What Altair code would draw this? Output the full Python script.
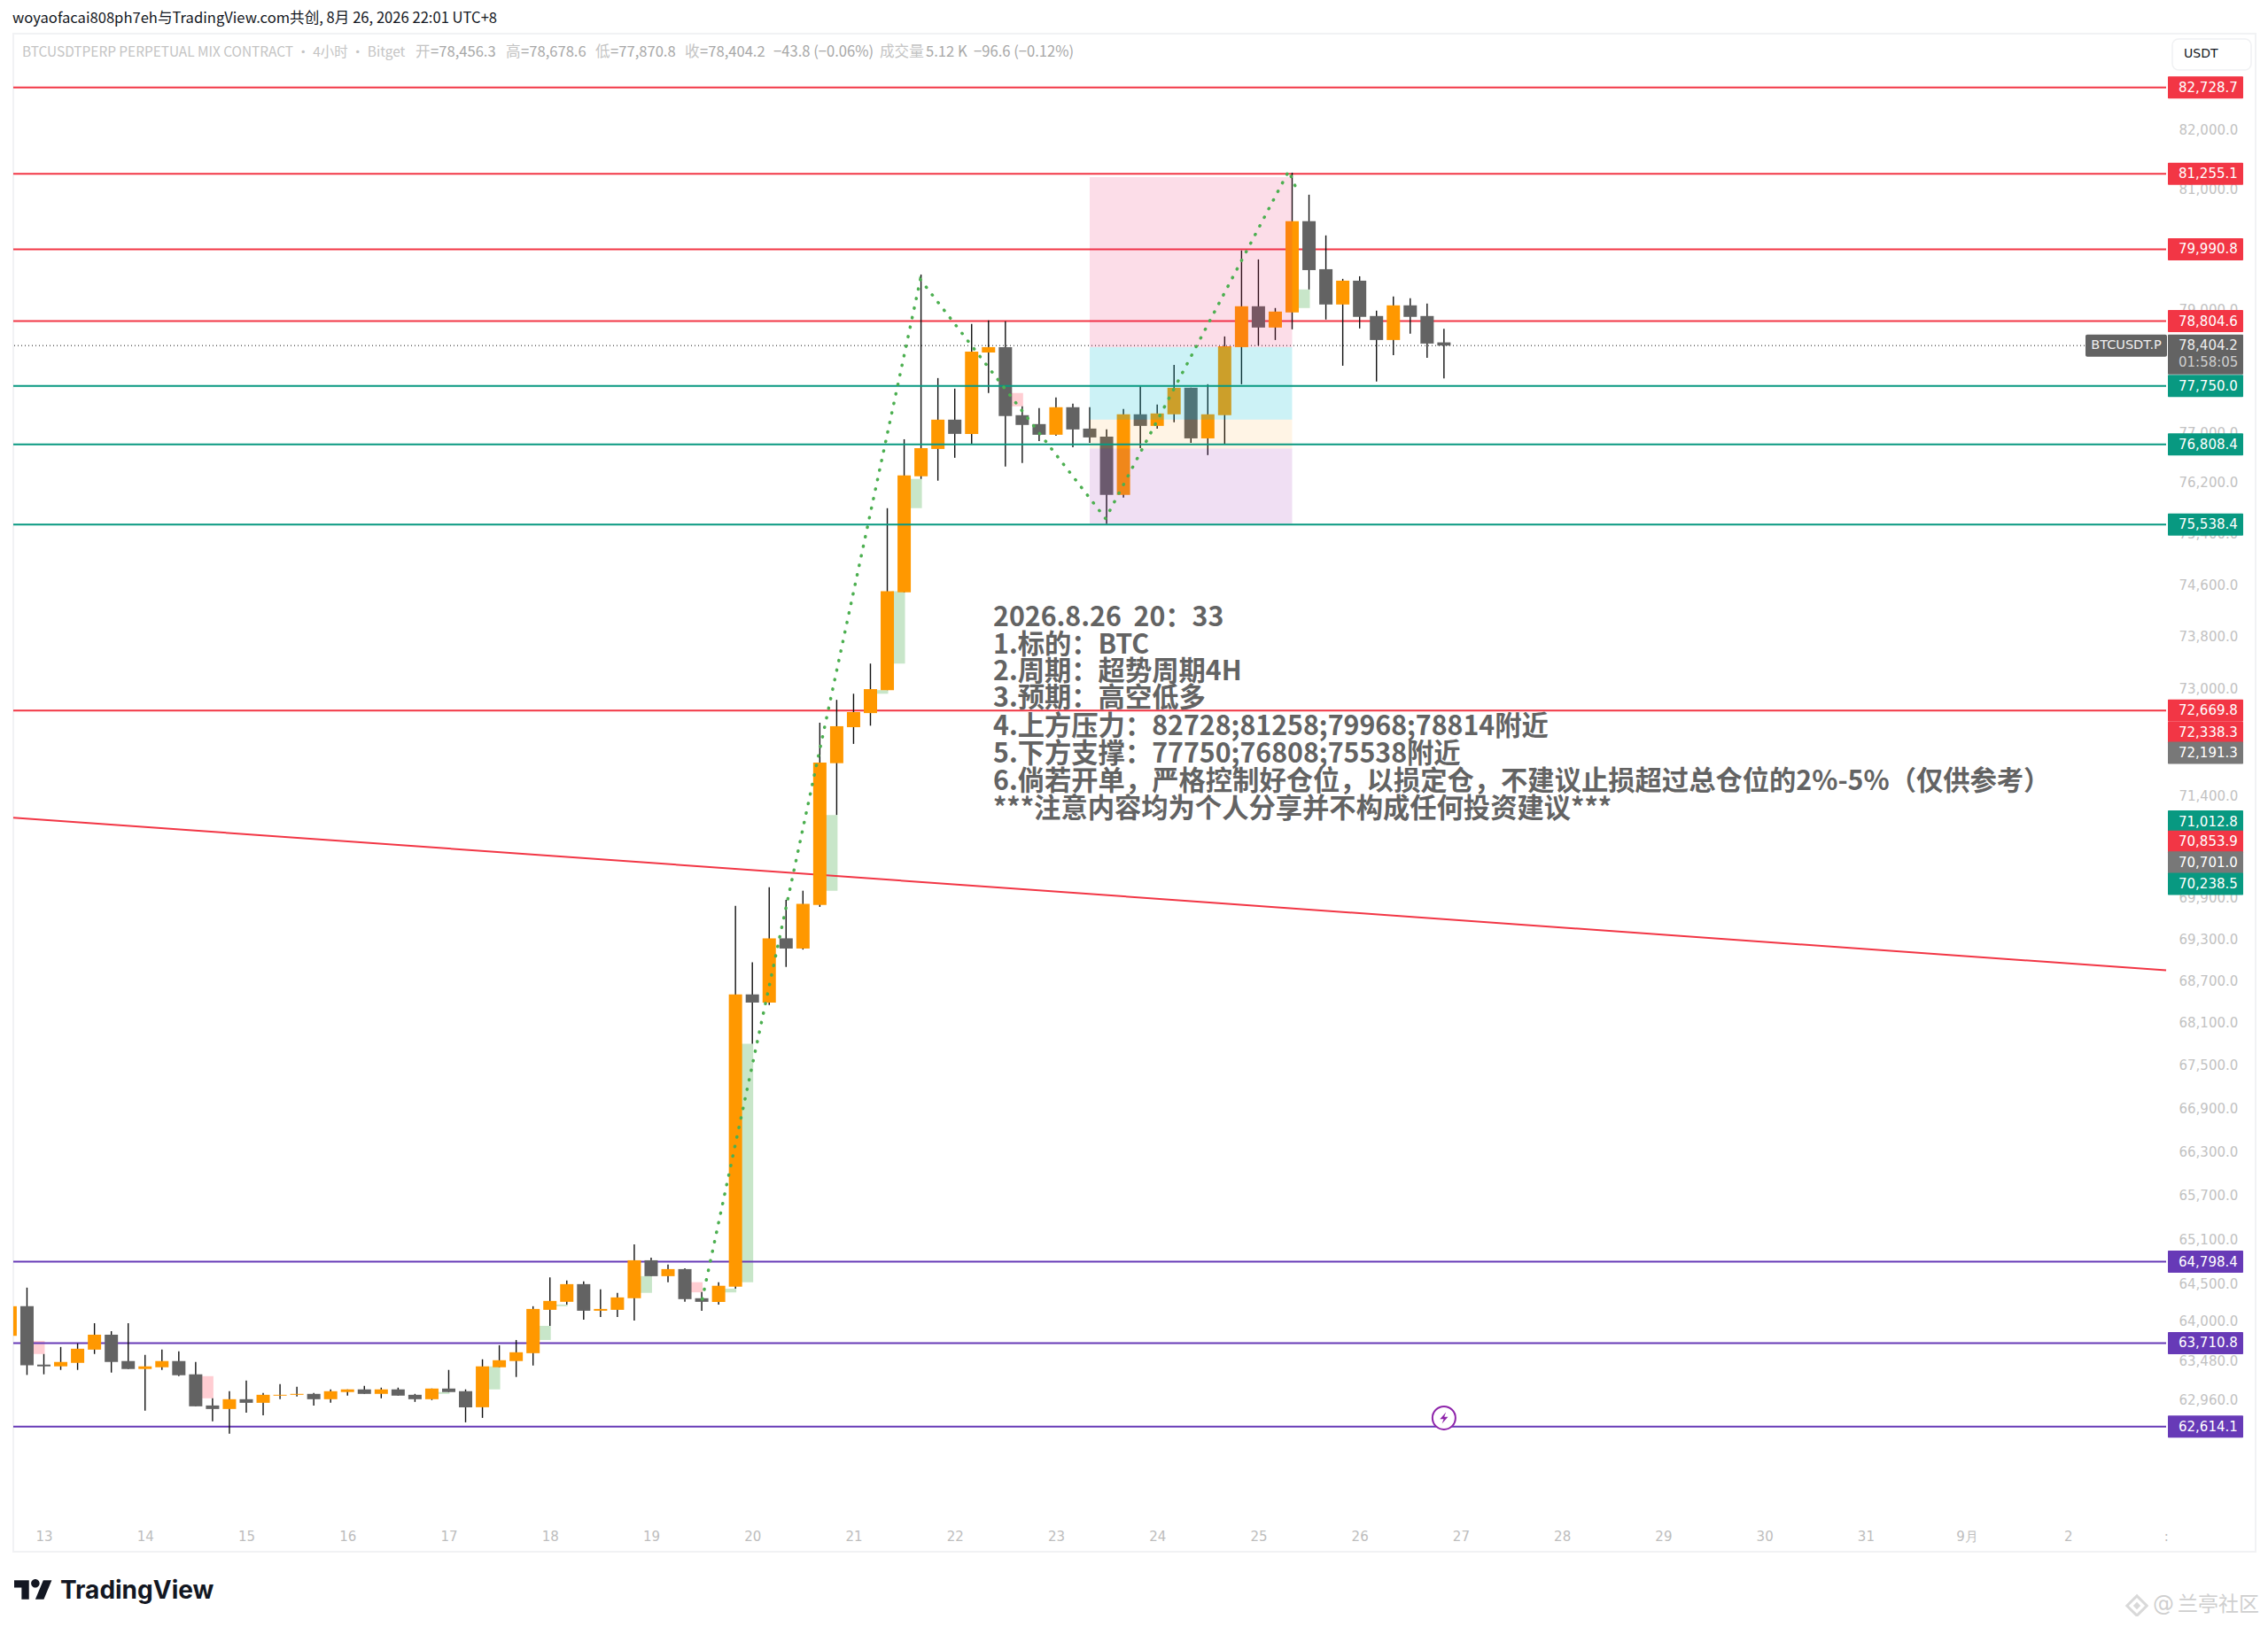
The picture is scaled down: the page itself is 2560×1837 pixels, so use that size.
import altair as alt
import pandas as pd

FIRST_BAR = -2
opens = [63807,64201,63426,63403,63449,63624,63822,63473,63368,63391,63473,63298,62889,62843,62971,62924,63018,63029,63041,62971,63065,63100,63041,63100,63029,62971,63111,63076,62866,63391,63473,63577,64153,64260,64497,64141,64153,64308,64818,64604,64699,64308,64258,64462,68504,68388,69308,69161,69792,71880,72420,72633,72981,74480,76301,76736,77205,76977,78291,78379,77277,77134,76963,77405,77062,76934,76006,77291,77105,77291,77719,76905,77277,78379,79048,78699,78946,80460,79660,79077,79470,78888,78495,79063,78888,78456]
closes = [64201,63418,63403,63461,63636,63822,63461,63368,63403,63473,63286,62878,62843,62971,62924,63029,63029,63041,62971,63076,63100,63041,63100,63018,62971,63111,63065,62866,63403,63484,63589,64165,64272,64497,64141,64165,64319,64818,64604,64699,64296,64260,64475,68504,68388,69308,69161,69807,71888,72435,72648,72996,74497,76315,76750,77205,76977,78306,78379,77262,77120,76963,77405,77048,76920,76006,77291,77105,77305,77719,76905,77291,78393,79048,78699,78961,80460,79645,79077,79470,78874,78495,79063,78874,78437,78404]
highs = [64201,64450,63566,63659,63706,63975,63869,63975,63554,63624,63601,63461,62983,63076,63216,63053,63169,63135,63053,63100,63100,63146,63123,63123,63041,63111,63356,63100,63496,63682,63752,64201,64588,64545,64533,64426,64379,65032,64854,64759,64711,64391,64523,69777,68963,70049,69865,69998,72488,72833,72926,73385,75796,76891,79572,77876,77705,78757,78815,78801,77420,77391,77562,77462,77405,77048,77377,77743,77448,78091,77719,77776,78553,79970,79822,79019,81276,80904,80222,79500,79543,78975,79208,79179,79092,78679]
lows = [63807,63290,63298,63356,63356,63566,63321,63368,62820,63356,63274,62878,62681,62520,62796,62761,62971,63006,62889,62924,63018,63041,62983,63018,62936,62960,63065,62669,62727,63391,63263,63414,63939,64224,64023,64058,64058,64011,64604,64521,64260,64141,64222,64435,67804,68352,68897,69146,69763,71110,72169,72443,72981,74480,76259,76231,76595,76820,77634,76455,76512,76862,76948,76764,76834,75548,75964,76750,77062,77162,76834,76638,76806,77776,78403,78495,78670,79325,78830,78076,78684,77819,78248,78597,78205,77871]

ghost_bars = [-1,9,23,26,29,30,35,38,40,41,46,49,50,51,57,74]
ghost_top = [63740,63274,63065,63403,63939,64224,64604,64523,64435,67804,71110,72981,74497,76259,77634,79325]
ghost_bottom = [63566,62983,63041,63100,63752,64201,64380,64387,64386,64523,69998,72926,73385,75796,77420,79019]
GHOST_UP = [False,False,True,True,True,True,True,False,True,True,True,True,True,True,False,True]

zig_bar = [39.03,51.96,62.94,73.8,74.2]
zig_price = [64296,79489,75632,81306,81038]

box_left, box_right = 62, 74
box_tops = [81201,78379,77205,76740]
box_bottoms = [78379,77205,76740,75548]
box_colors = ["#e91e63","#00bcd4","#ff9800","#9c27b0"]
box_alpha = [0.15,0.2,0.1,0.15]

red_levels = [82728.7,81255.1,79990.8,78804.6,72669.8]
teal_levels = [77750.0,76808.4,75538.4]
purple_levels = [64798.4,63710.8,62614.1]
last_price = 78404.2
slant_bar = [-1.812,125.81]
slant_price = [71070,68848]

y_ticks = [82000,81000,79000,77000,76200,75400,74600,73800,73000,71400,69900,69300,68700,68100,67500,66900,66300,65700,65100,64500,64000,63480,62960]
x_ticks = [0,6,12,18,24,30,36,42,48,54,60,66,72,78,84,90,96,102,108,114,120,125.8]

tag_text = ["82,728.7","81,255.1","79,990.8","78,804.6","77,750.0","76,808.4","75,538.4","72,669.8","72,338.3","72,191.3","71,012.8","70,853.9","70,701.0","70,238.5","64,798.4","63,710.8","62,614.1"]
tag_pos = [82728.7,81255.1,79990.8,78804.6,77750.0,76808.4,75538.4,72669.8,72338.3,72035,71012.8,70716,70410,70097,64798.4,63710.8,62614.1]
R,T,P,G = "#f23645","#089981","#673ab7","#787878"
tag_fill = [R,R,R,R,T,T,T,R,R,G,T,R,G,T,P,P,P]

note_lines = ["2026.8.26\u00a0\u00a020：33","1.标的：BTC","2.周期：超势周期4H","3.预期：高空低多","4.上方压力：82728;81258;79968;78814附近","5.下方支撑：77750;76808;75538附近","6.倘若开单，严格控制好仓位，以损定仓，不建议止损超过总仓位的2%-5%（仅供参考）","***注意内容均为个人分享并不构成任何投资建议***"]
note_rows = [698,729,759,789,821,852,883,914]

PX0, PY0 = 15, 38
W, H = 2430, 1682
CJK = "Noto Sans CJK SC"
NUM = "DejaVu Sans"

bars = [FIRST_BAR + i for i in range(len(opens))]
candles = pd.DataFrame({"bar":bars,"o":opens,"c":closes,"h":highs,"l":lows})
candles["color"] = ["#ff9800" if c>=o else "#636363" for o,c in zip(opens,closes)]
ghosts = pd.DataFrame({"bar":[b+0.657 for b in ghost_bars],"t":ghost_top,"b":ghost_bottom,
                       "color":["#c8e6c9" if u else "#ffcdd2" for u in GHOST_UP]})

yscale = alt.Scale(type="log", domain=[61365.3,83660.7], nice=False, zero=False)
xscale = alt.Scale(domain=[-1.812,125.81], nice=False, zero=False, padding=0)
label_expr = "datum.value>125 ? ':' : datum.value==114 ? '9月' : datum.value==120 ? '2' : ''+(13+datum.value/6)"
xaxis = alt.Axis(values=x_ticks, labelExpr=label_expr, grid=False, domain=False, ticks=False, title=None,
        labelColor="#bdbdbd", labelFontSize=15, labelFont=NUM, labelPadding=7, labelFlush=False, labelBound=False, labelOverlap=False)
yaxis = alt.Axis(orient="right", values=y_ticks, format=",.1f", grid=False, domain=False, ticks=False, title=None,
        labelColor="#c2c2c2", labelFontSize=15, labelFont=NUM, labelPadding=14, labelFlush=False, labelBound=False, labelOverlap=False)
def X(f): return alt.X(f, type="quantitative", scale=xscale, axis=xaxis)
def Y(f): return alt.Y(f, type="quantitative", scale=yscale, axis=yaxis)
Y2 = lambda f: alt.Y2(f)

def text(s, px, py, size=15, color="#000000", font=CJK, weight="normal", align="left"):
    return alt.Chart(pd.DataFrame({"t":[s]})).mark_text(fontSize=size, color=color, font=font, fontWeight=weight,
        align=align, baseline="middle").encode(x=alt.value(px-PX0), y=alt.value(py-PY0), text="t:N")

def hlines(levels, color, width=2):
    return alt.Chart(pd.DataFrame({"p":levels})).mark_rule(color=color, strokeWidth=width).encode(y=Y("p"))

frame = alt.Chart(pd.DataFrame({"a":[0]})).mark_rect(fillOpacity=0, stroke="#f1f2f4", strokeWidth=2).encode(
    x=alt.value(0), x2=alt.value(2531), y=alt.value(0), y2=alt.value(1714))

ghost_layer = alt.Chart(ghosts).mark_bar(size=15, orient="vertical").encode(x=X("bar"), y=Y("t"), y2=Y2("b"), color=alt.Color("color:N", scale=None))
slant = alt.Chart(pd.DataFrame({"bar":slant_bar,"p":slant_price})).mark_line(color=R, strokeWidth=2).encode(x=X("bar"), y=Y("p"))
current = alt.Chart(pd.DataFrame({"p":[last_price]})).mark_rule(color="#636363", strokeWidth=1.5, strokeDash=[1,3]).encode(y=Y("p"))
wicks = alt.Chart(candles).mark_rule(color="#111111", strokeWidth=1.4, clip=True).encode(x=X("bar"), y=Y("l"), y2=Y2("h"))
bodies = alt.Chart(candles).mark_bar(size=15, orient="vertical", clip=True).encode(x=X("bar"), y=Y("o"), y2=Y2("c"), color=alt.Color("color:N", scale=None))
boxes = alt.Chart(pd.DataFrame({"l":[box_left]*4,"r":[box_right]*4,"t":box_tops,"b":box_bottoms,"color":box_colors,"a":box_alpha})).mark_rect().encode(
    x=X("l"), x2=alt.X2("r"), y=Y("t"), y2=Y2("b"), color=alt.Color("color:N", scale=None), opacity=alt.Opacity("a:Q", scale=None))
zig = alt.Chart(pd.DataFrame({"bar":zig_bar,"p":zig_price})).mark_line(color="#4caf50", strokeWidth=3.5, strokeDash=[0.5,10.5], strokeCap="round").encode(x=X("bar"), y=Y("p"))

tags_df = pd.DataFrame({"t":tag_text,"p":tag_pos,"f":tag_fill})
tags = alt.Chart(tags_df).mark_rect(width=85, height=25, cornerRadius=1).encode(x=alt.value(2489.5-PX0), y=Y("p"), color=alt.Color("f:N", scale=None))
tag_labels = alt.Chart(tags_df).mark_text(fontSize=15, font=NUM, color="#ffffff", align="left", baseline="middle").encode(
    x=alt.value(2459-PX0), y=Y("p"), text="t:N")

last_df = pd.DataFrame({"p":[last_price]})
last_box = alt.Chart(last_df).mark_rect(width=85, height=45, cornerRadius=1, color="#636363", yOffset=10).encode(x=alt.value(2489.5-PX0), y=Y("p"))
name_box = alt.Chart(last_df).mark_rect(width=92, height=25, cornerRadius=2, color="#636363").encode(x=alt.value(2400-PX0), y=Y("p"))

icon_df = pd.DataFrame({"bar":[83],"p":[62726]})
icon = alt.Chart(icon_df).mark_point(shape="circle", size=676, filled=True, fill="#ffffff", fillOpacity=1, stroke="#8e24aa", strokeWidth=2, opacity=1).encode(x=X("bar"), y=Y("p"))
bolt = alt.Chart(icon_df).mark_point(shape="M0.35,-1 L-0.7,0.2 L-0.05,0.2 L-0.35,1 L0.7,-0.2 L0.05,-0.2 Z", size=170, filled=True, color="#8e24aa", opacity=1).encode(x=X("bar"), y=Y("p"))

logo_path = "M-0.222,0.5 L-0.611,0.5 L-0.611,-0.111 L-1,-0.111 L-1,-0.5 L-0.222,-0.5 Z M0.556,0.5 L0.111,0.5 L0.528,-0.5 L0.972,-0.5 Z M-0.111,-0.333 A0.222,0.222 0 1 1 0.333,-0.333 A0.222,0.222 0 1 1 -0.111,-0.333 Z"
logo = alt.Chart(pd.DataFrame({"a":[0]})).mark_point(shape=logo_path, size=1849, filled=True, color="#131722", opacity=1).encode(x=alt.value(37.5-PX0), y=alt.value(1795-PY0))

usdt = alt.Chart(pd.DataFrame({"a":[0]})).mark_rect(fillOpacity=0, stroke="#f0f1f3", strokeWidth=1.5, cornerRadius=7).encode(
    x=alt.value(2452-PX0), x2=alt.value(2541-PX0), y=alt.value(44-PY0), y2=alt.value(79-PY0))

wm1 = alt.Chart(pd.DataFrame({"a":[0]})).mark_point(shape="diamond", size=500, stroke="#d9d9d9", strokeWidth=3, opacity=1).encode(x=alt.value(2412-PX0), y=alt.value(1813-PY0))
wm2 = alt.Chart(pd.DataFrame({"a":[0]})).mark_point(shape="diamond", size=70, filled=True, color="#d9d9d9", opacity=1).encode(x=alt.value(2412-PX0), y=alt.value(1813-PY0))

LBL, VAL = "#c4c4c4", "#a8a8a8"
texts = [
    text("woyaofacai808ph7eh与TradingView.com共创, 8月 26, 2026 22:01 UTC+8", 14, 21, 16.6, "#131722"),
    text("BTCUSDTPERP PERPETUAL MIX CONTRACT · 4小时 · Bitget", 25, 59, 15.4, LBL),
    text("开", 469, 59, 16.6, LBL), text("=78,456.3", 486, 59, 16.6, VAL),
    text("高", 571, 59, 16.6, LBL), text("=78,678.6", 588, 59, 16.6, VAL),
    text("低", 672, 59, 16.6, LBL), text("=77,870.8", 689, 59, 16.6, VAL),
    text("收", 773, 59, 16.6, LBL), text("=78,404.2", 790, 59, 16.6, VAL),
    text("−43.8 (−0.06%)", 873, 59, 16.6, VAL),
    text("成交量", 993, 59, 16.6, LBL), text("5.12 K", 1045, 59, 16.6, VAL),
    text("−96.6 (−0.12%)", 1099, 59, 16.6, VAL),
    text("USDT", 2465, 61, 14, "#131722", NUM),
    text("BTCUSDT.P", 2400, 390, 14.5, "#f0f0f0", NUM, "normal", "center"),
    text("78,404.2", 2459, 390, 15, "#eeeeee", NUM),
    text("01:58:05", 2459, 409, 15, "#cfcfcf", NUM),
    text("TradingView", 68, 1797, 28, "#131722", "Inter", "bold"),
    text("@", 2430, 1812, 24, "#cfcfcf", NUM),
    text("兰亭社区", 2458, 1812, 23, "#cfcfcf", CJK),
]
notes = [text(s, 1121, y, 30.3, "#636363", CJK, "bold") for s, y in zip(note_lines, note_rows)]

layers = [frame, ghost_layer, slant, hlines(red_levels,R), hlines(purple_levels,P), current,
          wicks, bodies, boxes, hlines(teal_levels,T), zig, icon, bolt,
          last_box, name_box, tags, tag_labels, logo, usdt, wm1, wm2] + texts + notes

chart = alt.layer(*layers).properties(
    width=W, height=H,
    padding={"left":7,"top":30,"right":107,"bottom":105},
    autosize=alt.AutoSizeParams(type="none"),
    background="#ffffff",
).configure_view(stroke=None)

chart.save("out.html", embed_options={"renderer": "svg", "actions": False})
